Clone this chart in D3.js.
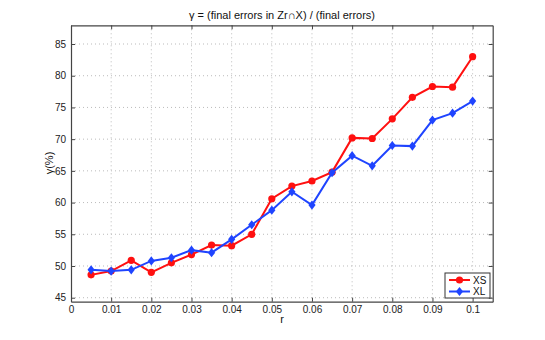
<!DOCTYPE html>
<html><head><meta charset="utf-8">
<script src="https://cdn.jsdelivr.net/npm/d3@7"></script>
<style>body{margin:0;background:#fff}svg{display:block;font-family:"Liberation Sans",Arial,sans-serif}</style>
</head><body>
<svg id="c" width="545" height="340"></svg>
<script>
const rValues = [0.005,0.01,0.015,0.02,0.025,0.03,0.035,0.04,0.045,0.05,0.055,0.06,0.065,0.07,0.075,0.08,0.085,0.09,0.095,0.1];
const xsValues = [48.6,49.2,50.9,49.0,50.5,51.8,53.3,53.2,55.0,60.6,62.6,63.4,64.8,70.2,70.1,73.2,76.6,78.3,78.2,83.0];
const xlValues = [49.4,49.2,49.4,50.8,51.3,52.5,52.1,54.2,56.5,58.8,61.7,59.6,64.7,67.4,65.8,69.0,68.9,73.0,74.1,76.0];
const xTicks = [0,0.01,0.02,0.03,0.04,0.05,0.06,0.07,0.08,0.09,0.1];
const xTickLabels = ["0","0.01","0.02","0.03","0.04","0.05","0.06","0.07","0.08","0.09","0.1"];
const yTicks = [45,50,55,60,65,70,75,80,85];
const seriesNames = ["XS","XL"];
const seriesColors = ["#ff1010","#1f44ff"];

const svg = d3.select("#c");
const L=71, R=492.7, T=25.3, B=301.7;
const x = d3.scaleLinear().domain([0,0.105]).range([L,R]);
const y = d3.scaleLinear().domain([44.37,87.95]).range([B,T]);
const frame = "#444";

const diamond = {draw(ctx, size){ const w=3.6, h=4.6; ctx.moveTo(0,-h); ctx.lineTo(w,0); ctx.lineTo(0,h); ctx.lineTo(-w,0); ctx.closePath(); }};

// grid
const g = svg.append("g");
g.selectAll("line.gx").data(xTicks.filter(d=>d>0)).join("line")
  .attr("x1",d=>x(d)).attr("x2",d=>x(d)).attr("y1",T).attr("y2",B)
  .attr("stroke","#bbb").attr("stroke-width",1).attr("stroke-dasharray","1,3");
g.selectAll("line.gy").data(yTicks).join("line")
  .attr("y1",d=>y(d)).attr("y2",d=>y(d)).attr("x1",L).attr("x2",R)
  .attr("stroke","#bbb").attr("stroke-width",1).attr("stroke-dasharray","1,3");

// axes
const xAxis = d3.axisBottom(x).tickValues(xTicks).tickFormat((d,i)=>xTickLabels[i]).tickSizeInner(-4).tickSizeOuter(0).tickPadding(4);
const yAxis = d3.axisLeft(y).tickValues(yTicks).tickSizeInner(-4).tickSizeOuter(0).tickPadding(5);
const xTop = d3.axisTop(x).tickValues(xTicks).tickFormat("").tickSizeInner(-4).tickSizeOuter(0);
const yRight = d3.axisRight(y).tickValues(yTicks).tickFormat("").tickSizeInner(-4).tickSizeOuter(0);
function style(sel){
  sel.select(".domain").attr("stroke",frame).attr("stroke-width",1.2);
  sel.selectAll(".tick line").attr("stroke",frame);
  sel.selectAll(".tick text").attr("fill","#222").attr("font-size","10px").attr("font-family","Liberation Sans, Arial, sans-serif");
}
svg.append("g").attr("transform",`translate(0,${B})`).call(xAxis).call(style);
svg.append("g").attr("transform",`translate(${L},0)`).call(yAxis).call(style);
svg.append("g").attr("transform",`translate(0,${T})`).call(xTop).call(style);
svg.append("g").attr("transform",`translate(${R},0)`).call(yRight).call(style);

// lines
const series = [xsValues, xlValues];
const line = d3.line().x((d,i)=>x(rValues[i])).y(d=>y(d));
series.forEach((vals,si)=>{
  svg.append("path").datum(vals).attr("d",line).attr("fill","none")
    .attr("stroke",seriesColors[si]).attr("stroke-width",2);
  if(si===0){
    svg.selectAll(null).data(vals).join("circle")
      .attr("cx",(d,i)=>x(rValues[i])).attr("cy",d=>y(d)).attr("r",3.6)
      .attr("fill",seriesColors[si]);
  } else {
    svg.selectAll(null).data(vals).join("path")
      .attr("d",d3.symbol(diamond))
      .attr("transform",(d,i)=>`translate(${x(rValues[i])},${y(d)})`)
      .attr("fill",seriesColors[si]);
  }
});

// titles
svg.append("text").attr("x",282).attr("y",19).attr("text-anchor","middle")
  .attr("font-size","11px").attr("fill","#111").text("γ = (final errors in Zr∩X) / (final errors)");
svg.append("text").attr("x",282).attr("y",323).attr("text-anchor","middle")
  .attr("font-size","11px").attr("fill","#111").text("r");
svg.append("text").attr("transform","translate(53,163) rotate(-90)").attr("text-anchor","middle")
  .attr("font-size","11px").attr("fill","#111").text("γ(%)");

// legend
const lg = svg.append("g").attr("transform","translate(445,273)");
lg.append("rect").attr("width",45).attr("height",25).attr("fill","#fff").attr("stroke","#333").attr("stroke-width",1);
seriesNames.forEach((n,i)=>{
  const yy = 7 + i*11.5;
  lg.append("line").attr("x1",4).attr("x2",25).attr("y1",yy).attr("y2",yy).attr("stroke",seriesColors[i]).attr("stroke-width",2);
  if(i===0) lg.append("circle").attr("cx",14.5).attr("cy",yy).attr("r",3.6).attr("fill",seriesColors[i]);
  else lg.append("path").attr("d",d3.symbol(diamond)).attr("transform",`translate(14.5,${yy})`).attr("fill",seriesColors[i]);
  lg.append("text").attr("x",28).attr("y",yy+3.5).attr("font-size","10px").attr("fill","#111").text(n);
});
</script>
</body></html>
